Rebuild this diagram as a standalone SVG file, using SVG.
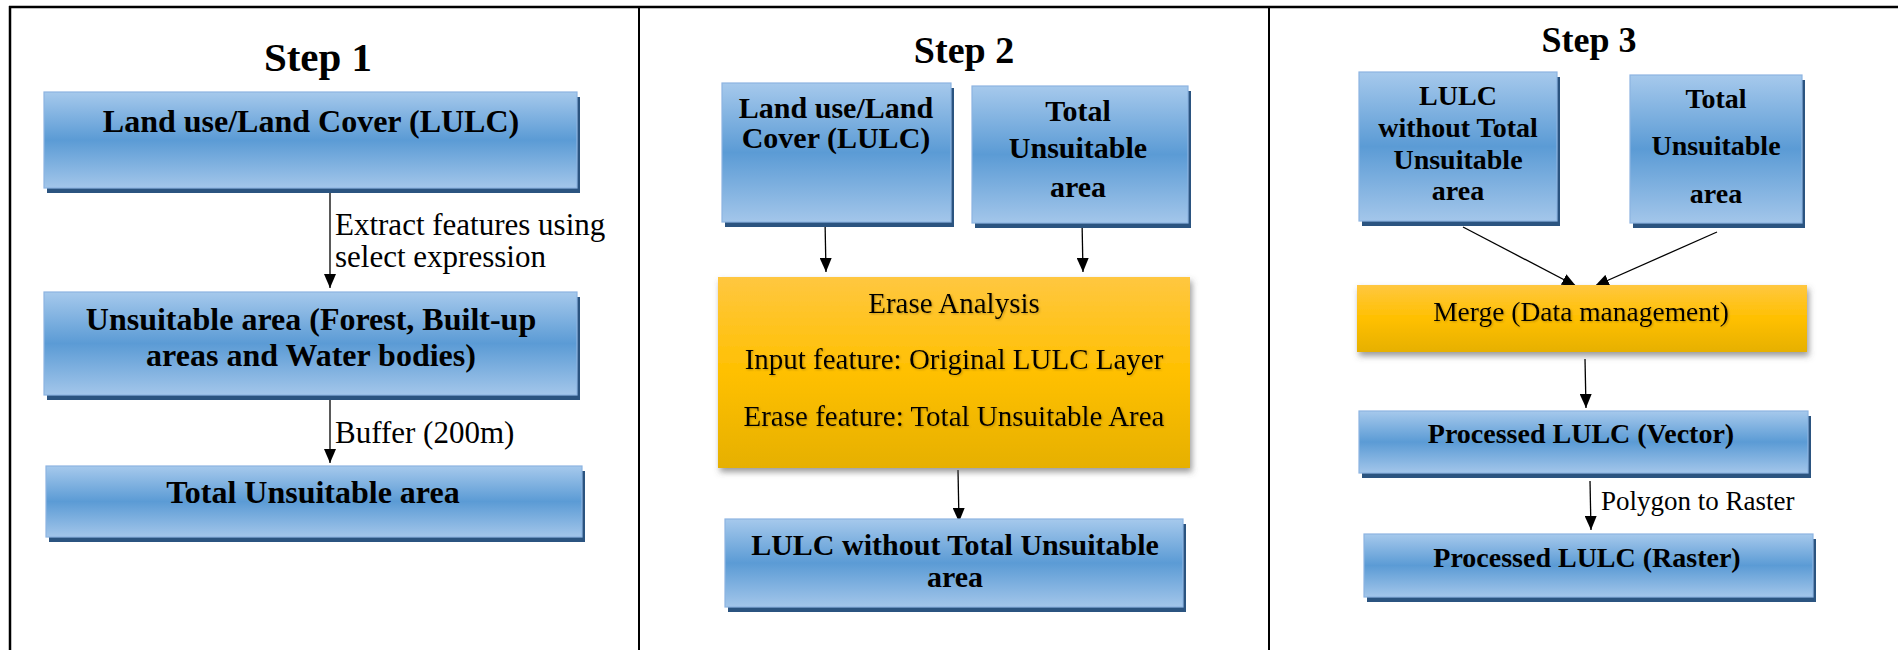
<svg xmlns="http://www.w3.org/2000/svg" width="1898" height="650" viewBox="0 0 1898 650">
<style>
.frame{stroke:#000;stroke-width:2.5;fill:none}
.title{font-family:"Liberation Serif","Times New Roman",serif;font-weight:bold;text-anchor:middle;fill:#000}
.bt{font-family:"Liberation Serif","Times New Roman",serif;font-weight:bold;text-anchor:middle;fill:#000}
.ot{font-family:"Liberation Serif","Times New Roman",serif;text-anchor:middle;fill:#000;filter:url(#tsh)}
.lbl{font-family:"Liberation Serif","Times New Roman",serif;fill:#000}
.blue{fill:url(#gBlue);stroke:#8db4e2;stroke-width:1.2}
.bsh{fill:#2b5480}
.orange{fill:url(#gOrange);filter:url(#osh)}
.conn{stroke:#000;stroke-width:1.3;fill:none;marker-end:url(#ah)}
</style>
<defs>
<linearGradient id="gBlue" x1="0" y1="0" x2="0" y2="1">
<stop offset="0" stop-color="#a6c9ec"/>
<stop offset="0.5" stop-color="#5b9bd5"/>
<stop offset="1" stop-color="#a3c6ea"/>
</linearGradient>
<linearGradient id="gOrange" x1="0" y1="0" x2="0" y2="1">
<stop offset="0" stop-color="#ffc740"/>
<stop offset="0.5" stop-color="#ffc000"/>
<stop offset="1" stop-color="#e6b000"/>
</linearGradient>
<filter id="osh" x="-5%" y="-10%" width="115%" height="130%">
<feDropShadow dx="2" dy="4" stdDeviation="3" flood-color="#555" flood-opacity="0.6"/>
</filter>
<filter id="tsh" x="-5%" y="-30%" width="110%" height="160%">
<feDropShadow dx="1" dy="1" stdDeviation="1" flood-color="#7a5a00" flood-opacity="0.45"/>
</filter>
<marker id="ah" markerUnits="userSpaceOnUse" markerWidth="14" markerHeight="12" refX="14" refY="6" orient="auto">
<path d="M0,0 L14,6 L0,12 z" fill="#000"/>
</marker>
</defs>

<g id="frame">
<line class="frame" x1="9" y1="7" x2="1898" y2="7"/>
<line class="frame" x1="10" y1="6" x2="10" y2="650"/>
<line class="frame" x1="639" y1="6" x2="639" y2="650" style="stroke-width:2"/>
<line class="frame" x1="1269" y1="6" x2="1269" y2="650" style="stroke-width:2"/>
</g>

<g id="titles">
<text class="title" x="318" y="71" font-size="41">Step 1</text>
<text class="title" x="964" y="63" font-size="38">Step 2</text>
<text class="title" x="1589" y="52" font-size="36">Step 3</text>
</g>

<g id="connectors">
<line class="conn" x1="330" y1="188" x2="330" y2="288"/>
<line class="conn" x1="330" y1="395" x2="330" y2="463"/>
<line class="conn" x1="825" y1="220" x2="826" y2="272"/>
<line class="conn" x1="1082" y1="220" x2="1083" y2="272"/>
<line class="conn" x1="958" y1="470" x2="959" y2="522"/>
<line class="conn" x1="1463" y1="227" x2="1576" y2="286"/>
<line class="conn" x1="1717" y1="232" x2="1595" y2="286"/>
<line class="conn" x1="1585" y1="359" x2="1586" y2="408"/>
<line class="conn" x1="1590" y1="481" x2="1591" y2="530"/>
<text class="lbl" x="335" y="235" font-size="31">Extract features using</text>
<text class="lbl" x="335" y="267" font-size="31">select expression</text>
<text class="lbl" x="335" y="443" font-size="31">Buffer (200m)</text>
<text class="lbl" x="1601" y="510" font-size="27">Polygon to Raster</text>
</g>

<g id="s1_lulc">
<rect class="bsh" x="47" y="97" width="533" height="96"/>
<rect class="blue" x="44" y="92" width="533" height="96"/>
<text class="bt" x="311" y="132" font-size="32">Land use/Land Cover (LULC)</text>
</g>
<g id="s1_unsuitable">
<rect class="bsh" x="47" y="297" width="533" height="103"/>
<rect class="blue" x="44" y="292" width="533" height="103"/>
<text class="bt" x="311" y="330" font-size="32">Unsuitable area (Forest, Built-up</text>
<text class="bt" x="311" y="366" font-size="32">areas and Water bodies)</text>
</g>
<g id="s1_total">
<rect class="bsh" x="49" y="471" width="536" height="71"/>
<rect class="blue" x="46" y="466" width="536" height="71"/>
<text class="bt" x="313" y="503" font-size="32">Total Unsuitable area</text>
</g>

<g id="s2_lulc">
<rect class="bsh" x="725" y="88" width="229" height="139"/>
<rect class="blue" x="722" y="83" width="229" height="139"/>
<text class="bt" x="836" y="118" font-size="30">Land use/Land</text>
<text class="bt" x="836" y="148" font-size="30">Cover (LULC)</text>
</g>
<g id="s2_total">
<rect class="bsh" x="975" y="91" width="216" height="137"/>
<rect class="blue" x="972" y="86" width="216" height="137"/>
<text class="bt" x="1078" y="121" font-size="30">Total</text>
<text class="bt" x="1078" y="158" font-size="30">Unsuitable</text>
<text class="bt" x="1078" y="197" font-size="30">area</text>
</g>
<g id="s2_erase">
<rect class="orange" x="718" y="277" width="472" height="191"/>
<text class="ot" x="954" y="313" font-size="29">Erase Analysis</text>
<text class="ot" x="954" y="369" font-size="29">Input feature: Original LULC Layer</text>
<text class="ot" x="954" y="426" font-size="29">Erase feature: Total Unsuitable Area</text>
</g>
<g id="s2_out">
<rect class="bsh" x="728" y="524" width="458" height="88"/>
<rect class="blue" x="725" y="519" width="458" height="88"/>
<text class="bt" x="955" y="555" font-size="30">LULC without Total Unsuitable</text>
<text class="bt" x="955" y="587" font-size="30">area</text>
</g>

<g id="s3_lulc">
<rect class="bsh" x="1362" y="77" width="198" height="149"/>
<rect class="blue" x="1359" y="72" width="198" height="149"/>
<text class="bt" x="1458" y="105" font-size="28">LULC</text>
<text class="bt" x="1458" y="137" font-size="28">without Total</text>
<text class="bt" x="1458" y="169" font-size="28">Unsuitable</text>
<text class="bt" x="1458" y="200" font-size="28">area</text>
</g>
<g id="s3_total">
<rect class="bsh" x="1633" y="80" width="172" height="148"/>
<rect class="blue" x="1630" y="75" width="172" height="148"/>
<text class="bt" x="1716" y="108" font-size="28">Total</text>
<text class="bt" x="1716" y="155" font-size="28">Unsuitable</text>
<text class="bt" x="1716" y="203" font-size="28">area</text>
</g>
<g id="s3_merge">
<rect class="orange" x="1357" y="285" width="450" height="67"/>
<text class="ot" x="1581" y="321" font-size="27.5">Merge (Data management)</text>
</g>
<g id="s3_vector">
<rect class="bsh" x="1362" y="416" width="449" height="62"/>
<rect class="blue" x="1359" y="411" width="449" height="62"/>
<text class="bt" x="1581" y="443" font-size="28">Processed LULC (Vector)</text>
</g>
<g id="s3_raster">
<rect class="bsh" x="1367" y="539" width="449" height="63"/>
<rect class="blue" x="1364" y="534" width="449" height="63"/>
<text class="bt" x="1587" y="567" font-size="28">Processed LULC (Raster)</text>
</g>
</svg>
